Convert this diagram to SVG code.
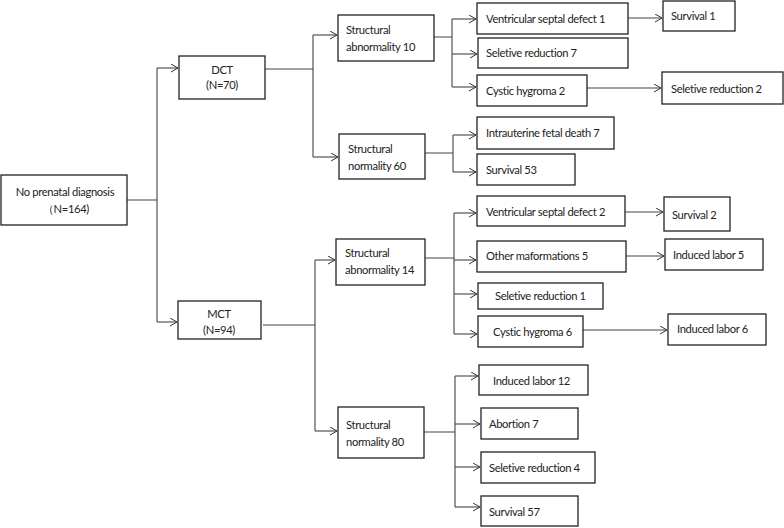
<svg xmlns="http://www.w3.org/2000/svg" width="784" height="528" viewBox="0 0 784 528">
<defs>
<marker id="arr" markerWidth="10" markerHeight="10" refX="7" refY="4" orient="auto" markerUnits="userSpaceOnUse">
<path d="M0,0 L7,4 L0,8" fill="none" stroke="#333" stroke-width="1"/>
</marker>
<style>
.box{fill:#fff;stroke:#222;stroke-width:1.3}
text{font-family:Lato,"Liberation Sans",sans-serif;font-size:11.2px;letter-spacing:-0.35px;fill:#222}
.c{text-anchor:middle}
.ln{fill:none;stroke:#444;stroke-width:1.1}
.ar{fill:none;stroke:#444;stroke-width:1.1;marker-end:url(#arr)}
</style>
</defs>
<rect width="784" height="528" fill="#fff"/>
<g id="connectors">
<path class="ln" d="M127,200 H157 M157,68 V322"/>
<path class="ar" d="M157,68 H178"/>
<path class="ar" d="M157,322 H177"/>
<path class="ln" d="M265,69 H313 M313,35 V157"/>
<path class="ar" d="M313,35 H337"/>
<path class="ar" d="M313,157 H338"/>
<path class="ln" d="M434,37 H452 M452,19 V87"/>
<path class="ar" d="M452,19 H476"/>
<path class="ar" d="M452,54 H477"/>
<path class="ar" d="M452,87 H476"/>
<path class="ar" d="M628,18 H662"/>
<path class="ar" d="M587,88 H661"/>
<path class="ln" d="M425,153 H453 M453,135 V172"/>
<path class="ar" d="M453,135 H476"/>
<path class="ar" d="M453,172 H476"/>
<path class="ln" d="M263,325 H315 M315,260 V431"/>
<path class="ar" d="M315,260 H335"/>
<path class="ar" d="M315,431 H337"/>
<path class="ln" d="M425,258 H454 M454,213 V334"/>
<path class="ar" d="M454,213 H476"/>
<path class="ar" d="M454,260 H476"/>
<path class="ar" d="M454,294 H477"/>
<path class="ar" d="M454,334 H477"/>
<path class="ar" d="M625,212 H663"/>
<path class="ar" d="M626,256 H664"/>
<path class="ar" d="M583,330 H667"/>
<path class="ln" d="M424,432 H455 M455,376 V507"/>
<path class="ar" d="M455,376 H478"/>
<path class="ar" d="M455,424 H480"/>
<path class="ar" d="M455,467 H480"/>
<path class="ar" d="M455,507 H480"/>
</g>
<g id="root"><rect class="box" x="1" y="175" width="126" height="50"/><text class="c" x="65" y="196">No prenatal diagnosis</text><text class="c" x="66" y="213">（N=164)</text></g>
<g id="dct"><rect class="box" x="179" y="56" width="86" height="43"/><text class="c" x="222" y="74">DCT</text><text class="c" x="222" y="89">(N=70)</text></g>
<g id="mct"><rect class="box" x="178" y="301" width="83" height="38"/><text class="c" x="219" y="318">MCT</text><text class="c" x="219" y="334">(N=94)</text></g>
<g id="sa10"><rect class="box" x="338" y="15" width="96" height="46"/><text x="346" y="34">Structural</text><text x="346" y="51">abnormality 10</text></g>
<g id="sn60"><rect class="box" x="339" y="134" width="86" height="45"/><text x="348" y="153">Structural</text><text x="348" y="170">normality 60</text></g>
<g id="vsd1"><rect class="box" x="477" y="3" width="151" height="31"/><text x="486" y="23">Ventricular septal defect 1</text></g>
<g id="sr7"><rect class="box" x="478" y="38" width="150" height="30"/><text x="486" y="57">Seletive reduction 7</text></g>
<g id="ch2"><rect class="box" x="477" y="75" width="110" height="31"/><text x="486" y="95">Cystic hygroma 2</text></g>
<g id="surv1"><rect class="box" x="663" y="1" width="72" height="30"/><text x="671" y="20">Survival 1</text></g>
<g id="sr2"><rect class="box" x="662" y="72" width="121" height="32"/><text x="671" y="93">Seletive reduction 2</text></g>
<g id="ifd7"><rect class="box" x="477" y="117" width="137" height="32"/><text x="486" y="137">Intrauterine fetal death 7</text></g>
<g id="surv53"><rect class="box" x="477" y="154" width="98" height="31"/><text x="486" y="174">Survival 53</text></g>
<g id="sa14"><rect class="box" x="336" y="239" width="89" height="46"/><text x="345" y="257">Structural</text><text x="345" y="274">abnormality 14</text></g>
<g id="vsd2"><rect class="box" x="477" y="196" width="148" height="30"/><text x="486" y="216">Ventricular septal defect 2</text></g>
<g id="om5"><rect class="box" x="477" y="241" width="149" height="31"/><text x="486" y="260">Other maformations 5</text></g>
<g id="sr1"><rect class="box" x="478" y="283" width="125" height="26"/><text x="495" y="300">Seletive reduction 1</text></g>
<g id="ch6"><rect class="box" x="478" y="316" width="105" height="31"/><text x="493" y="336">Cystic hygroma 6</text></g>
<g id="surv2"><rect class="box" x="664" y="197" width="66" height="34"/><text x="672" y="219">Survival 2</text></g>
<g id="il5"><rect class="box" x="665" y="239" width="98" height="31"/><text x="673" y="259">Induced labor 5</text></g>
<g id="il6"><rect class="box" x="668" y="314" width="98" height="31"/><text x="677" y="333">Induced labor 6</text></g>
<g id="sn80"><rect class="box" x="338" y="407" width="86" height="51"/><text x="346" y="429">Structural</text><text x="346" y="446">normality 80</text></g>
<g id="il12"><rect class="box" x="479" y="365" width="109" height="30"/><text x="493" y="385">Induced labor 12</text></g>
<g id="ab7"><rect class="box" x="481" y="408" width="97" height="31"/><text x="489" y="428">Abortion 7</text></g>
<g id="sr4"><rect class="box" x="481" y="452" width="114" height="31"/><text x="489" y="472">Seletive reduction 4</text></g>
<g id="surv57"><rect class="box" x="481" y="496" width="97" height="30"/><text x="489" y="516">Survival 57</text></g>
</svg>
